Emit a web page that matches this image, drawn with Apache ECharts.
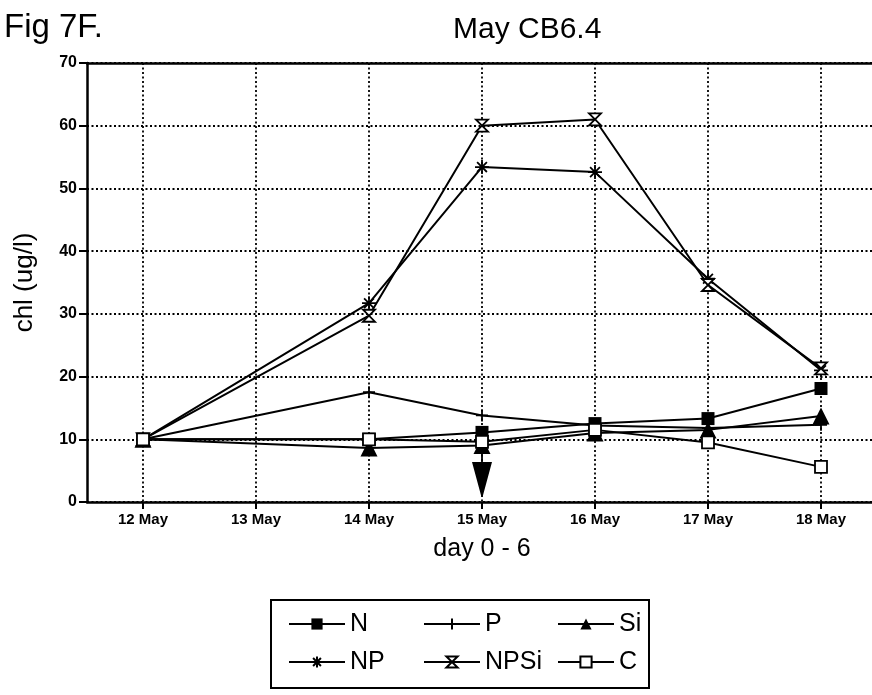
<!DOCTYPE html>
<html>
<head>
<meta charset="utf-8">
<script src="https://cdn.jsdelivr.net/npm/echarts@6/dist/echarts.min.js"></script>
<style>html,body{margin:0;padding:0;background:#fff}#c{width:872px;height:695px}</style>
</head>
<body>
<div id="c"></div>
<script>
const categories = ['12 May','13 May','14 May','15 May','16 May','17 May','18 May'];
const yTicks = [0,10,20,30,40,50,60,70];
const N    = [10, null, 10.0, 11.1, 12.5, 13.3, 18.1];
const P    = [10, null, 17.5, 13.8, 12.2, 11.8, 12.3];
const Si   = [10, null, 8.6, 9.0, 11.0, 11.5, 13.7];
const NP   = [10, null, 31.7, 53.4, 52.6, 35.6, 21.0];
const NPSi = [10, null, 29.7, 60.0, 61.0, 34.6, 21.3];
const C    = [10, null, 10.0, 9.6, 11.5, 9.5, 5.6];
const arrowAt = ['15 May', 4.4];

const FONT = 'Liberation Sans, Arial, sans-serif';
const dotted = {color:'#000', width:1.8, type:[2,2.5]};

const SYM = {
  N: 'rect',
  P: 'path://M5,0 L5,10 M0,5 L10,5',
  Si: 'triangle',
  NP: 'path://M0,5 L10,5 M5,0 L5,10 M1.5,1.5 L8.5,8.5 M8.5,1.5 L1.5,8.5',
  NPSi: 'path://M0,0 L10,0 L0,10 L10,10 Z',
  C: 'rect'
};

function mk(name, data, sym, size, filled) {
  return {
    name, type:'line', data, xAxisIndex:0, yAxisIndex:0,
    connectNulls:true, symbol:sym, symbolSize:size, z:5,
    lineStyle:{color:'#000', width:2},
    itemStyle: filled ? {color:'#000', borderColor:'#000', borderWidth:0}
                      : {color:'#fff', borderColor:'#000', borderWidth:1.8},
    emphasis:{disabled:true}
  };
}

const series = [
  mk('N', N, SYM.N, 13, true),
  mk('P', P, SYM.P, 12, false),
  mk('Si', Si, SYM.Si, 17, true),
  mk('NP', NP, SYM.NP, 14, false),
  mk('NPSi', NPSi, SYM.NPSi, 12, false),
  mk('C', C, SYM.C, 12, false)
];
series[2].markPoint = {
  silent:true,
  symbol:'path://M10,0 L12,0 L12,10 L22,10 L11.6,45 L10.4,45 L0,10 L10,10 Z',
  symbolSize:[20,45],
  itemStyle:{color:'#000'},
  label:{show:false},
  data:[{coord:arrowAt}]
};

const legendCommon = {
  orient:'vertical', itemWidth:56, itemHeight:14, itemGap:12,
  textStyle:{fontFamily:FONT, fontSize:25, color:'#000', lineHeight:26},
  selectedMode:false
};

const option = {
  animation:false,
  backgroundColor:'#fff',
  title:[
    {text:'Fig 7F.', left:-1, top:6, textStyle:{fontFamily:FONT, fontSize:33, fontWeight:'normal', color:'#000'}},
    {text:'May CB6.4', left:448, top:10, textStyle:{fontFamily:FONT, fontSize:30, fontWeight:'normal', color:'#000'}}
  ],
  grid:[
    {left:143, width:678, top:63, height:439},
    {left:87, width:791, top:63, height:439}
  ],
  xAxis:[
    {gridIndex:0, type:'category', data:categories, boundaryGap:false,
     axisLine:{show:false}, axisTick:{show:true, length:7, lineStyle:{color:'#000', width:2}},
     axisLabel:{fontFamily:FONT, fontSize:15, fontWeight:'bold', color:'#000', margin:10},
     splitLine:{show:true, lineStyle:dotted},
     name:'day 0 - 6', nameLocation:'middle', nameGap:35,
     nameTextStyle:{fontFamily:FONT, fontSize:25, color:'#000'}},
    {gridIndex:1, type:'value', min:0, max:1, position:'bottom',
     axisLine:{show:true, lineStyle:{color:'#000', width:2.5}}, axisTick:{show:false}, axisLabel:{show:false}, splitLine:{show:false}},
    {gridIndex:1, type:'value', min:0, max:1, position:'top',
     axisLine:{show:true, lineStyle:{color:'#000', width:2.5}}, axisTick:{show:false}, axisLabel:{show:false}, splitLine:{show:false}}
  ],
  yAxis:[
    {gridIndex:0, type:'value', min:0, max:70, interval:10, show:false},
    {gridIndex:1, type:'value', min:yTicks[0], max:yTicks[yTicks.length-1], interval:10,
     axisLine:{show:true, lineStyle:{color:'#000', width:2.5}},
     axisTick:{show:true, length:8, lineStyle:{color:'#000', width:2}},
     axisLabel:{fontFamily:FONT, fontSize:16, fontWeight:'bold', color:'#000', margin:10},
     splitLine:{show:true, lineStyle:dotted},
     name:'chl (ug/l)', nameLocation:'middle', nameGap:49, nameRotate:90,
     nameTextStyle:{fontFamily:FONT, fontSize:26, color:'#000'}}
  ],
  legend:[
    Object.assign({left:283, top:606, data:['N','NP']}, legendCommon),
    Object.assign({left:418, top:606, data:['P','NPSi']}, legendCommon),
    Object.assign({left:552, top:606, data:['Si','C']}, legendCommon)
  ],
  graphic:[
    {type:'rect', shape:{x:271, y:600, width:378, height:88},
     style:{fill:'none', stroke:'#000', lineWidth:2}, z:0}
  ],
  series
};

const chart = echarts.init(document.getElementById('c'), null, {renderer:'canvas'});
chart.setOption(option);
</script>
</body>
</html>
